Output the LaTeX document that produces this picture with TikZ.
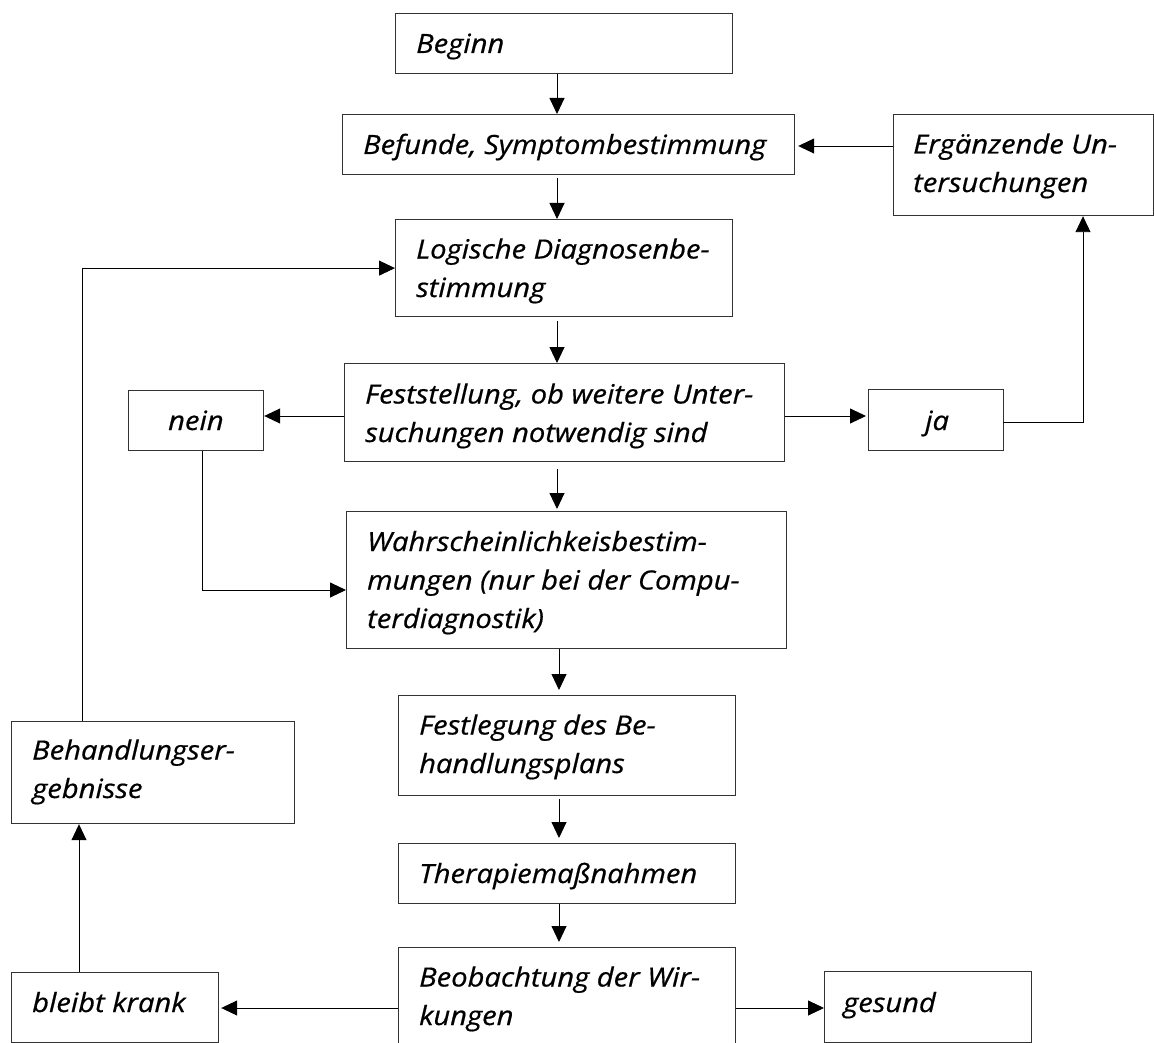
\documentclass[tikz,border=0pt]{standalone}
\usepackage{fontspec}
\setmainfont{Open Sans}[ItalicFeatures={FakeStretch=1.1,FakeBold=0.6}]
\usetikzlibrary{arrows.meta,calc}
\begin{document}
\begin{tikzpicture}[x=1pt,y=-1pt,
  box/.style={draw=black!80, line width=1.2pt, rectangle, inner sep=0pt, anchor=north west},
  lbl/.style={anchor=base west, inner sep=0pt, align=left,
    font=\fontsize{26.5}{38.5}\selectfont\itshape},
  arr/.style={line width=0.9pt, draw=black, -{Triangle[length=16pt,width=15pt]}},
  ln/.style={line width=0.9pt, draw=black}]
\useasboundingbox (0,0) rectangle (1154,1043);
\clip (0,0) rectangle (1154,1043);

% boxes
\node[box, minimum width=337pt, minimum height=60pt]  (beginn)  at (395,13)  {};
\node[box, minimum width=452pt, minimum height=60pt]  (befunde) at (342,114) {};
\node[box, minimum width=260pt, minimum height=101pt] (ergaenz) at (893,114) {};
\node[box, minimum width=337pt, minimum height=97pt]  (logik)   at (395,219) {};
\node[box, minimum width=440pt, minimum height=98pt]  (fest)    at (344,363) {};
\node[box, minimum width=135pt, minimum height=60pt]  (nein)    at (128,390) {};
\node[box, minimum width=135pt, minimum height=61pt]  (ja)      at (868,389) {};
\node[box, minimum width=440pt, minimum height=137pt] (wahr)    at (346,511) {};
\node[box, minimum width=337pt, minimum height=100pt] (plan)    at (398,695) {};
\node[box, minimum width=283pt, minimum height=102pt] (ergeb)   at (11,721)  {};
\node[box, minimum width=337pt, minimum height=60pt]  (thera)   at (398,843) {};
\node[box, minimum width=337pt, minimum height=113pt] (beob)    at (398,947) {};
\node[box, minimum width=207pt, minimum height=70pt]  (krank)   at (11,972)  {};
\node[box, minimum width=207pt, minimum height=71pt]  (gesund)  at (824,971) {};

% texts (each placed at the baseline of its last line)
\node[lbl] (t-beginn)  at (416,53)  {Beginn};
\node[lbl] (t-befunde) at (363,154) {Befunde, Symptombestimmung};
\node[lbl] (t-ergaenz) at (913,192) {Ergänzende Un-\\tersuchungen};
\node[lbl] (t-logik)   at (416,297) {Logische Diagnosenbe-\\stimmung};
\node[lbl] (t-fest)    at (365,442) {Feststellung, ob weitere Unter-\\suchungen notwendig sind};
\node[lbl] (t-nein)    at (168,430) {nein};
\node[lbl] (t-ja)      at (925,430) {ja};
\node[lbl] (t-wahr)    at (367,628) {Wahrscheinlichkeisbestim-\\mungen (nur bei der Compu-\\terdiagnostik)};
\node[lbl] (t-plan)    at (419,773) {Festlegung des Be-\\handlungsplans};
\node[lbl] (t-ergeb)   at (32,798)  {Behandlungser-\\gebnisse};
\node[lbl] (t-thera)   at (419,883) {Therapiemaßnahmen};
\node[lbl] (t-beob)    at (419,1025) {Beobachtung der Wir-\\kungen};
\node[lbl] (t-krank)   at (32,1012) {bleibt krank};
\node[lbl] (t-gesund)  at (843,1012) {gesund};

% guide coordinates for the connector lines
\coordinate (sp)  at (557,0);
\coordinate (sp2) at (559,0);
\coordinate (yb)  at (0,146);
\coordinate (yq)  at (0,416);
\coordinate (yj)  at (0,422);
\coordinate (jx)  at (1083,0);
\coordinate (nx)  at (202,0);
\coordinate (ny)  at (0,590);
\coordinate (yo)  at (0,1008);
\coordinate (kx)  at (79,0);
\coordinate (rx)  at (82,0);

% main column
\draw[arr] (beginn.south -| sp) -- (befunde.north -| sp);
\draw[arr, shorten <=3pt] (befunde.south -| sp) -- (logik.north -| sp);
\draw[arr, shorten <=4pt] (logik.south -| sp) -- (fest.north -| sp);
\draw[arr, shorten <=7pt, shorten >=2pt] (fest.south -| sp) -- (wahr.north -| sp);
\draw[arr, shorten >=5pt] (wahr.south -| sp2) -- (plan.north -| sp2);
\draw[arr, shorten <=3pt, shorten >=5pt] (plan.south -| sp2) -- (thera.north -| sp2);
\draw[arr, shorten >=5pt] (thera.south -| sp2) -- (beob.north -| sp2);

% side branches
\draw[arr, shorten >=3pt] (ergaenz.west |- yb) -- (befunde.east |- yb);
\draw[arr] (fest.west |- yq) -- (nein.east |- yq);
\draw[arr, shorten >=2pt] (fest.east |- yq) -- (ja.west |- yq);
\draw[arr] ([xshift=-1pt]ja.east |- yj) -| (ergaenz.south -| jx);
\draw[arr] (nein.south -| nx) |- (wahr.west |- ny);
\draw[arr, shorten >=2pt] (beob.west |- yo) -- (krank.east |- yo);
\draw[arr] (beob.east |- yo) -- (gesund.west |- yo);
\draw[arr] (krank.north -| kx) -- (ergeb.south -| kx);
\draw[arr] (ergeb.north -| rx) |- (logik.west);
\end{tikzpicture}
\end{document}
